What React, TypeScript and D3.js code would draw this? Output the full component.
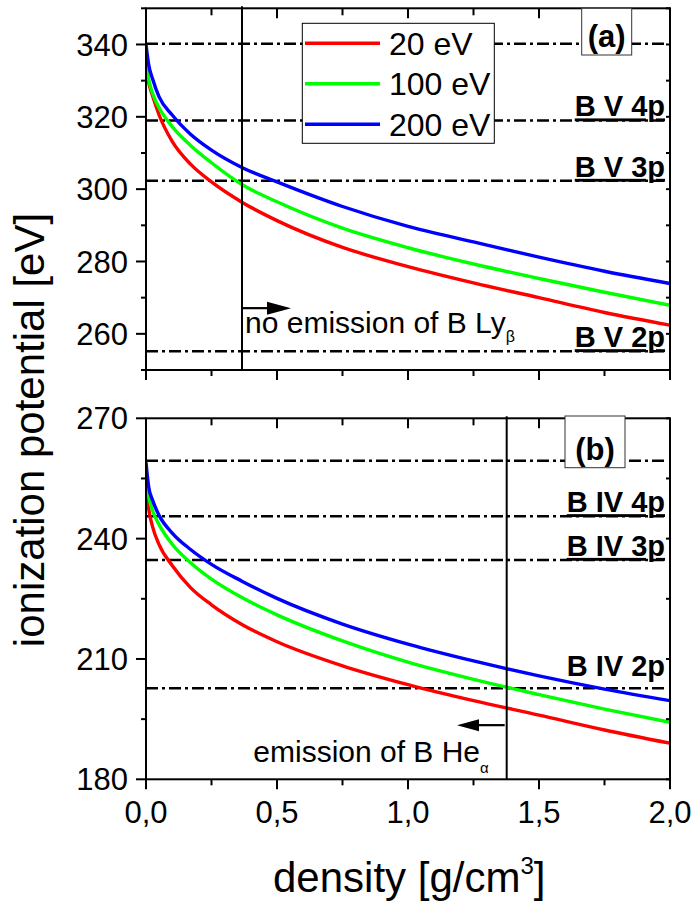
import React from "react";
import * as d3 from "d3";

// ---------- data ----------
const SERIES_NAMES = ["20 eV", "100 eV", "200 eV"];
const SERIES_COLORS = ["#ff0000", "#00ff00", "#0000ff"];

// shared density grid (g/cm^3)
const DENS = [0, 0.01, 0.025, 0.05, 0.1, 0.17, 0.25, 0.366, 0.5, 0.75, 1.0, 1.25, 1.5, 1.75, 2.0];

// panel (a): B V
const RED_A = [333.5, 329.5, 325.8, 320.5, 313.2, 306.9, 302.0, 296.4, 291.3, 283.9, 278.6, 274.1, 270.0, 265.9, 262.4];
const GREEN_A = [335.5, 330.5, 326.5, 322.5, 317.3, 312.1, 307.3, 301.3, 296.5, 289.2, 283.8, 279.3, 275.3, 271.5, 267.9];
const BLUE_A = [340.0, 334.5, 330.5, 325.5, 320.5, 315.2, 310.8, 306.0, 302.0, 295.2, 289.7, 285.4, 281.2, 277.3, 273.9];
const LEVELS_A = [340.2, 319.0, 302.3, 255.2];
const LEVEL_LABELS_A = ["", "B V 4p", "B V 3p", "B V 2p"];

// panel (b): B IV
const RED_B = [253.5, 247.5, 243.0, 238.5, 233.3, 227.8, 223.5, 218.6, 214.3, 208.3, 203.6, 199.6, 196.0, 192.3, 189.0];
const GREEN_B = [254.5, 250.5, 247.0, 243.5, 238.6, 234.0, 229.9, 225.3, 221.0, 214.5, 209.2, 204.9, 201.1, 197.5, 194.2];
const BLUE_B = [259.0, 253.0, 249.6, 245.8, 241.4, 237.3, 233.6, 229.4, 225.1, 218.7, 213.7, 209.5, 205.8, 202.5, 199.6];
const LEVELS_B = [259.4, 245.6, 234.7, 202.7];
const LEVEL_LABELS_B = ["", "B IV 4p", "B IV 3p", "B IV 2p"];

const X_TICKS = [0, 0.5, 1.0, 1.5, 2.0];
const X_TICK_LABELS = ["0,0", "0,5", "1,0", "1,5", "2,0"];
const Y_TICKS_A = [260, 280, 300, 320, 340];
const Y_TICKS_B = [180, 210, 240, 270];

const LIMIT_A = 0.3664;
const LIMIT_B = 1.3767;

const FONT = "'Liberation Sans', Arial, Helvetica, sans-serif";

// ---------- layout ----------
const W = 694;
const H = 907;
const X0 = 146;
const X1 = 670;
const TOP_A = 8.3;
const BOT_A = 370;
const TOP_B = 418.3;
const BOT_B = 779.3;

const x = d3.scaleLinear().domain([0, 2]).range([X0, X1]);
const yA = d3.scaleLinear().domain([250, 350]).range([BOT_A, TOP_A]);
const yB = d3.scaleLinear().domain([180, 270]).range([BOT_B, TOP_B]);

function Panel({ id, y, series, levels, labels, yTicks, yMinorStep, limit, showXLabels, panelLabel, labelBox, labelOffsets }) {
  const [d0, d1] = y.domain();
  const top = y.range()[1];
  const bot = y.range()[0];
  const line = (vals) =>
    d3
      .line()
      .x((_, i) => x(DENS[i]))
      .y((v) => y(v))
      .curve(d3.curveMonotoneX)(vals);
  const xMinor = d3.range(0, 2.0001, 0.25).filter((v) => Math.abs(v / 0.5 - Math.round(v / 0.5)) > 1e-6);
  const yMinor = d3.range(d0, d1 + 0.001, yMinorStep).filter((v) => !yTicks.includes(v));
  return (
    <g>
      <defs>
        <clipPath id={`clip-${id}`}>
          <rect x={X0} y={top} width={X1 - X0} height={bot - top} />
        </clipPath>
      </defs>
      {levels.map((lv, i) => (
        <line key={`lv${i}`} x1={X0} x2={X1 - 4} y1={y(lv)} y2={y(lv)} stroke="#000" strokeWidth={2.5} strokeDasharray="12,4,3,4" />
      ))}
      <g clipPath={`url(#clip-${id})`}>
        {series.map((vals, i) => (
          <path key={`s${i}`} d={line(vals)} fill="none" stroke={SERIES_COLORS[i]} strokeWidth={3.4} strokeLinejoin="round" />
        ))}
      </g>
      <line x1={x(limit)} x2={x(limit)} y1={top - 2} y2={bot} stroke="#000" strokeWidth={2} />
      {labels.map((lb, i) =>
        lb ? (
          <text
            key={`lb${i}`}
            x={665}
            y={y(levels[i]) - labelOffsets[i]}
            textAnchor="end"
            fontFamily={FONT}
            fontWeight="bold"
            fontSize={29}
            textDecoration={labelOffsets[i] < 8 ? "underline" : undefined}
          >
            {lb}
          </text>
        ) : null
      )}
      <rect x={X0} y={top} width={X1 - X0} height={bot - top} fill="none" stroke="#000" strokeWidth={2} />
      {yTicks.map((t) => (
        <g key={`yt${t}`}>
          <line x1={X0 - 10} x2={X0} y1={y(t)} y2={y(t)} stroke="#000" strokeWidth={2} />
          <line x1={X1 - 4} x2={X1} y1={y(t)} y2={y(t)} stroke="#000" strokeWidth={2} />
          <text x={128} y={y(t)} dy="0.36em" textAnchor="end" fontFamily={FONT} fontSize={31}>
            {t}
          </text>
        </g>
      ))}
      {yMinor.map((t) => (
        <g key={`ym${t}`}>
          <line x1={X0 - 5} x2={X0} y1={y(t)} y2={y(t)} stroke="#000" strokeWidth={2} />
          <line x1={X1 - 4} x2={X1} y1={y(t)} y2={y(t)} stroke="#000" strokeWidth={2} />
        </g>
      ))}
      {X_TICKS.map((t, i) => (
        <g key={`xt${t}`}>
          <line x1={x(t)} x2={x(t)} y1={bot} y2={bot + 10} stroke="#000" strokeWidth={2} />
          <line x1={x(t)} x2={x(t)} y1={top} y2={top + 10} stroke="#000" strokeWidth={2} />
          {showXLabels ? (
            <text x={x(t)} y={823} textAnchor="middle" fontFamily={FONT} fontSize={31}>
              {X_TICK_LABELS[i]}
            </text>
          ) : null}
        </g>
      ))}
      {xMinor.map((t) => (
        <g key={`xm${t}`}>
          <line x1={x(t)} x2={x(t)} y1={bot} y2={bot + 6} stroke="#000" strokeWidth={2} />
          <line x1={x(t)} x2={x(t)} y1={top} y2={top + 7} stroke="#000" strokeWidth={2} />
        </g>
      ))}
      <rect x={labelBox[0]} y={labelBox[1]} width={labelBox[2]} height={labelBox[3]} fill="#fff" stroke="#333" strokeWidth={1} />
      <text
        x={labelBox[0] + labelBox[2] / 2}
        y={labelBox[1] + labelBox[3] - 8}
        textAnchor="middle"
        fontFamily={FONT}
        fontWeight="bold"
        fontSize={31}
      >
        {panelLabel}
      </text>
    </g>
  );
}

export default function App() {
  const arrowAy = yA(267.1);
  const arrowBy = yB(193.5);
  return (
    <svg width={W} height={H} style={{ position: "absolute", left: 0, top: 0, background: "#fff" }}>
      <rect width={W} height={H} fill="#fff" />
      <Panel
        id="a"
        y={yA}
        series={[RED_A, GREEN_A, BLUE_A]}
        levels={LEVELS_A}
        labels={LEVEL_LABELS_A}
        labelOffsets={[4, 4, 4, 4]}
        yTicks={Y_TICKS_A}
        yMinorStep={10}
        limit={LIMIT_A}
        showXLabels={false}
        panelLabel="(a)"
        labelBox={[581.7, 8.3, 50, 46.7]}
      />
      <Panel
        id="b"
        y={yB}
        series={[RED_B, GREEN_B, BLUE_B]}
        levels={LEVELS_B}
        labels={LEVEL_LABELS_B}
        labelOffsets={[4, 4, 4, 12.7]}
        yTicks={Y_TICKS_B}
        yMinorStep={15}
        limit={LIMIT_B}
        showXLabels={true}
        panelLabel="(b)"
        labelBox={[565, 416, 60, 51.7]}
      />
      <rect x={302.3} y={23.3} width={192} height={120} fill="#fff" stroke="#000" strokeWidth={1} />
      {SERIES_NAMES.map((n, i) => (
        <g key={n}>
          <line x1={305} x2={380} y1={43.3 + i * 40.5} y2={43.3 + i * 40.5} stroke={SERIES_COLORS[i]} strokeWidth={3.4} />
          <text x={389} y={54.5 + i * 40.5} fontFamily={FONT} fontSize={32}>
            {n}
          </text>
        </g>
      ))}
      <line x1={x(LIMIT_A)} x2={270} y1={arrowAy} y2={arrowAy} stroke="#000" strokeWidth={2.2} />
      <path d={`M267,${arrowAy - 6.5} L291,${arrowAy} L267,${arrowAy + 6.5} Z`} fill="#000" />
      <text x={245} y={333.3} fontFamily={FONT} fontSize={30}>
        no emission of B Ly
        <tspan fontSize={16} dy={9}>β</tspan>
      </text>
      <line x1={x(LIMIT_B) - 2} x2={476} y1={arrowBy} y2={arrowBy} stroke="#000" strokeWidth={2.2} />
      <path d={`M479,${arrowBy - 6} L457,${arrowBy} L479,${arrowBy + 6} Z`} fill="#000" />
      <text x={253.3} y={761.7} fontFamily={FONT} fontSize={30}>
        emission of B He
        <tspan fontSize={15} dy={11}>α</tspan>
      </text>
      <text transform="translate(44,430) rotate(-90)" textAnchor="middle" fontFamily={FONT} fontSize={42}>
        ionization potential [eV]
      </text>
      <text x={273} y={892} fontFamily={FONT} fontSize={42}>
        density [g/cm
        <tspan fontSize={24} dy={-18}>3</tspan>
        <tspan dy={18}>]</tspan>
      </text>
    </svg>
  );
}
